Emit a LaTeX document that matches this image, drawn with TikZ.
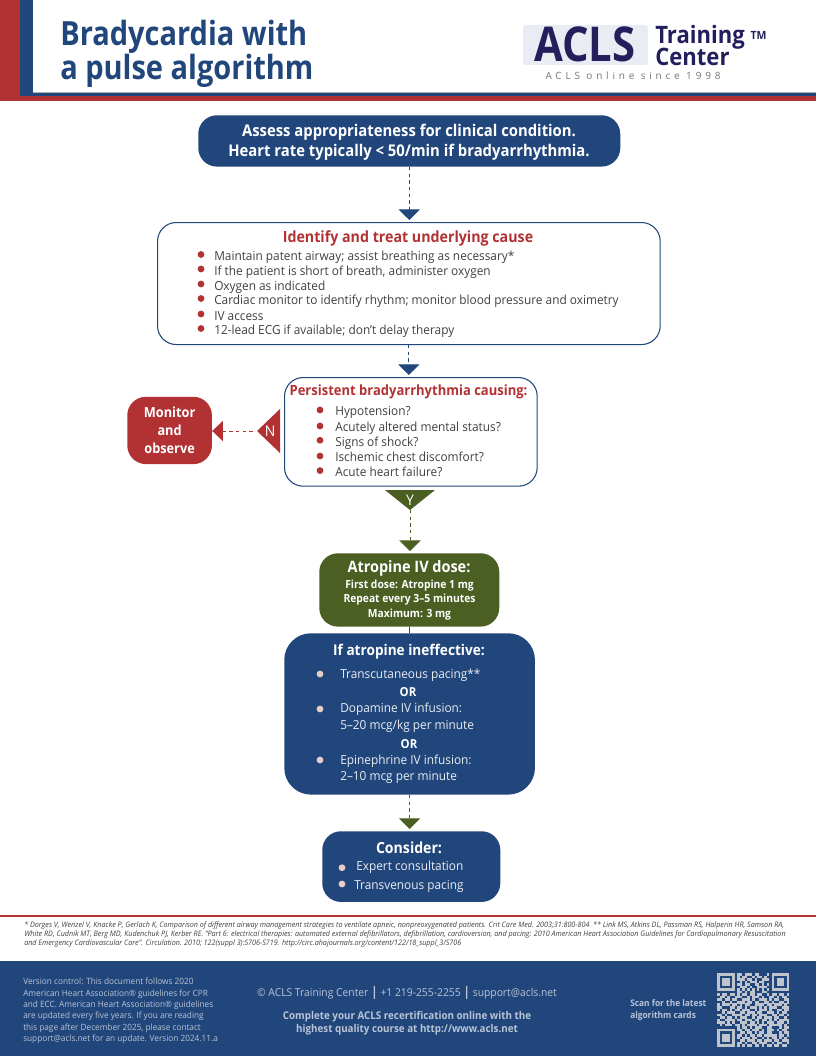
\documentclass[tikz,border=0pt]{standalone}
\usepackage{fontspec}
\setmainfont{Open Sans}[FakeStretch=0.95,BoldFeatures={FakeStretch=0.92}]
\newfontfamily\narrowfont[FakeStretch=0.87]{Open Sans}
\newfontfamily\spacedfont[LetterSpace=38]{Open Sans}
\usetikzlibrary{arrows.meta,positioning}
\definecolor{aclsblue}{HTML}{21467B}
\definecolor{aclsred}{HTML}{B23234}
\definecolor{aclsgreen}{HTML}{4A5F21}
\definecolor{aclsink}{HTML}{231F5C}
\definecolor{bulletpale}{HTML}{E8CFC5}
\definecolor{footpale}{HTML}{B9C4D6}
\definecolor{qrgrey}{HTML}{BFC4CC}
\tikzset{
	box/.style={rounded corners=#1, inner sep=0pt, align=center, anchor=north west},
	box/.default=14,
	head/.style={font=\fontsize{#1}{14}\selectfont\bfseries, align=center, inner sep=0pt},
	head/.default=11.5,
	item/.style={font=\fontsize{9.35}{12}\selectfont, anchor=base west, inner sep=0pt, text=black!75},
	paleitem/.style={item, text=white!90!aclsblue},
	flow/.style={dash pattern=on 2.5pt off 2.5pt, line width=0.7pt, -{Triangle[length=8pt,width=16pt]}, shorten >=1.5pt},
	foot/.style={font=\fontsize{6.5}{8.5}\selectfont, text=footpale, align=left, inner sep=0pt},
	letter/.style={inner sep=0pt, text=white, font=\fontsize{11}{12}\selectfont},
}
% one row of the scan code, read as 0 and 1
\newcount\qrcol
\def\qrscan#1#2{\ifx#2.\let\qrnext\relax\else
	\ifx#21\fill[qrgrey] ({717.3+\the\qrcol*2.48},{973+#1*2.54}) rectangle +(2.5,2.56);\fi
	\advance\qrcol by 1
	\def\qrnext{\qrscan{#1}}\fi\qrnext}
\newcommand{\footbar}{{\fontsize{10}{10}\selectfont\textbf{|}}}
\begin{document}
\begin{tikzpicture}[x=0.75pt, y=-0.75pt, line join=round]
	\useasboundingbox (0,0) rectangle (816,1056);
	% header band
	\fill[aclsred] (0,0) rectangle (20,100);
	\fill[aclsred] (0,96) rectangle (816,101);
	\fill[aclsblue] (20,0) rectangle (33,96);
	\fill[aclsblue] (20,93) rectangle (816,96);
	\draw[black!30, line width=0.5pt] (33,92.6) -- (816,92.6);
	\node[anchor=west, inner sep=0pt, text=aclsblue, align=left, font=\narrowfont\fontsize{25}{24.8}\selectfont\bfseries] (title) at (60,54) {Bradycardia with\\a pulse algorithm};
	\fill[aclsblue!10, rounded corners=2] (523,25) rectangle (648,65);
	\node[inner sep=0pt, text=aclsink, font=\narrowfont\fontsize{36}{36}\selectfont\bfseries] (logo) at (585,44) {ACLS};
	\node[anchor=west, inner sep=0pt, text=aclsink, align=left, font=\fontsize{18}{15.5}\selectfont\bfseries] (logotext) at (655,45.5) {Training \raisebox{3pt}{\fontsize{8.5}{10}\selectfont TM}\\[-2.5pt]Center};
	\node[inner sep=0pt, text=black!55, font=\spacedfont\fontsize{7.5}{9}\selectfont] (since) at (633,76) {ACLS online since 1998};
	% flowchart boxes
	\node[box, fill=aclsblue, minimum width=316.5pt, minimum height=38.5pt] (assess) at (198,115) {};
	\node[head=12, text=white, font=\fontsize{12.1}{15}\selectfont\bfseries] (assesstext) at (409,142) {Assess appropriateness for clinical condition.\\Heart rate typically < 50/min if bradyarrhythmia.};
	\node[box, draw=aclsblue, line width=0.8pt, minimum width=377pt, minimum height=91.5pt] (identify) at (157,222) {};
	\node[head=11.6, text=aclsred] (identifyhead) at (408,238) {Identify and treat underlying cause};
	\foreach \y/\t [count=\i] in {260.5/Maintain patent airway; assist breathing as necessary*, 275/If the patient is short of breath{,} administer oxygen, 290/Oxygen as indicated, 304.5/Cardiac monitor to identify rhythm; monitor blood pressure and oximetry, 320/IV access, 334.5/12-lead ECG if available; don’t delay therapy}{
		\node[item] (cause\i) at (214,\y) {\t};
		\fill[aclsred] (201,\y-6) circle (3.4);
	}
	\node[box, draw=aclsblue, line width=0.8pt, minimum width=189.5pt, minimum height=81.5pt] (persist) at (284,377) {};
	\node[head=10.6, text=aclsred] (persisthead) at (408.5,392) {Persistent bradyarrhythmia causing:};
	\foreach \y/\t [count=\i] in {415.7/Hypotension?, 431.7/Acutely altered mental status?, 446/Signs of shock?, 461.7/Ischemic chest discomfort?, 476.3/Acute heart failure?}{
		\node[item] (sign\i) at (335,\y) {\t};
		\fill[aclsred] (320,\y-5.7) circle (3.4);
	}
	\node[box, fill=aclsred, text=white, minimum width=63.5pt, minimum height=50.5pt, font=\fontsize{10.4}{13.5}\selectfont\bfseries] (monitor) at (127,396.5) {Monitor\\and\\observe};
	\fill[aclsred] (257,431) -- (280,409) -- (280,453) -- cycle;
	\node[letter] (no) at (270,431) {N};
	\coordinate (nofrom) at (257,431);
	\draw[flow, draw=aclsred, {Triangle[length=8pt,width=15pt]}-] (monitor.east |- nofrom) -- (nofrom);
	\fill[aclsgreen] (385,490) -- (435,490) -- (410,510) -- cycle;
	\node[letter] (yes) at (410,500) {Y};
	\node[box, fill=aclsgreen, minimum width=135pt, minimum height=55pt] (atropine) at (319,553) {};
	\node[head=11.8, text=white] (atropinehead) at (409,568) {Atropine IV dose:};
	\node[inner sep=0pt, align=center, text=white, font=\fontsize{8.4}{11}\selectfont\bfseries] (atropinetext) at (409.5,600) {First dose: Atropine 1 mg\\Repeat every 3–5 minutes\\Maximum: 3 mg};
	\node[box=20, fill=aclsblue, minimum width=188pt, minimum height=121pt] (ineff) at (284,633) {};
	\node[head=11.1, text=white] (ineffhead) at (409,652) {If atropine ineffective:};
	\foreach \y/\t [count=\i] in {678/{Transcutaneous pacing**}, 712.7/{Dopamine IV infusion:}, 729/{5–20 mcg/kg per minute}, 764/{Epinephrine IV infusion:}, 780/{2–10 mcg per minute}}{
		\node[paleitem] (drug\i) at (340,\y) {\t};
	}
	\foreach \y in {674,709,760}{
		\fill[bulletpale] (320,\y) circle (3.4);
	}
	\node[inner sep=0pt, text=white, font=\fontsize{9.3}{12}\selectfont\bfseries] (orone) at (408,692) {OR};
	\node[inner sep=0pt, text=white, font=\fontsize{9.3}{12}\selectfont\bfseries] (ortwo) at (409,744) {OR};
	\node[box, fill=aclsblue, minimum width=133.5pt, minimum height=53pt] (consider) at (322,831) {};
	\node[head=11.5, text=white] (considerhead) at (409,848) {Consider:};
	\node[paleitem] (expert) at (356,870.7) {Expert consultation};
	\node[paleitem] (transven) at (354,889) {Transvenous pacing};
	\fill[bulletpale] (342,867.7) circle (3.4);
	\fill[bulletpale] (342,884) circle (3.4);
	% connectors
	\draw[flow, draw=aclsblue] (assess.south) -- (assess.south |- identify.north);
	\draw[flow, draw=aclsblue] (identify.south) -- (identify.south |- persist.north);
	\coordinate (yesfrom) at (410,510);
	\draw[flow, draw=aclsgreen] (yesfrom) -- (yesfrom |- atropine.north);
	\draw[aclsblue, line width=0.8pt] (atropine.south) -- (atropine.south |- ineff.north);
	\draw[flow, draw=aclsgreen] (ineff.south) -- (ineff.south |- consider.north);
	% references
	\draw[aclsred, line width=0.8pt] (0,916) -- (816,916);
	\node[anchor=north west, inner sep=0pt, align=left, text=black!75, font=\fontsize{5.66}{6.9}\selectfont\itshape] (refs) at (24,921) {* Dorges V, Wenzel V, Knacke P, Gerlach K, Comparison of different airway management strategies to ventilate apneic, nonpreoxygenated patients. Crit Care Med. 2003;31:800-804\ \ ** Link MS, Atkins DL, Passman RS, Halperin HR, Samson RA,\\White RD, Cudnik MT, Berg MD, Kudenchuk PJ, Kerber RE. “Part 6: electrical therapies: automated external defibrillators, defibrillation, cardioversion, and pacing: 2010 American Heart Association Guidelines for Cardiopulmonary Resuscitation\\and Emergency Cardiovascular Care”. Circulation. 2010; 122(suppl 3):S706-S719. http://circ.ahajournals.org/content/122/18\_suppl\_3/S706};
	% footer
	\fill[aclsblue] (0,961) rectangle (816,1056);
	\node[foot, anchor=north west] (version) at (23,978) {Version control: This document follows 2020\\American Heart Association® guidelines for CPR\\and ECC. American Heart Association® guidelines\\are updated every five years. If you are reading\\this page after December 2025, please contact\\support@acls.net for an update. Version 2024.11.a};
	\node[foot, anchor=center, font=\fontsize{8.15}{10}\selectfont] (contact) at (407,993) {© ACLS Training Center \footbar{} +1 219-255-2255 \footbar{} support@acls.net};
	\node[foot, anchor=center, align=center, font=\fontsize{8}{9.5}\selectfont\bfseries] (complete) at (407,1023) {Complete your ACLS recertification online with the\\highest quality course at http://www.acls.net};
	\node[foot, anchor=west, font=\fontsize{6.8}{9.4}\selectfont\bfseries] (scan) at (630,1010) {Scan for the latest\\algorithm cards};
	% scan code
	\foreach \bits [count=\j from 0] in {
		11111110110111011000101111111,
		10000010101100101101001000001,
		10111010111011010011101011101,
		10111010010101110110001011101,
		10111010110110011010101011101,
		10000010011101001111001000001,
		11111110101010101010101111111,
		00000000110101100011000000000,
		10110110101101101100101101101,
		01101001110010111010011010110,
		11011011001110100111010110011,
		00100100111011011001101001101,
		10111011010110011110110111010,
		11000110110101110101011100111,
		10110101101110010111010011011,
		00101110011011101100111010110,
		11010011110110110111001101101,
		01101101011100101101110110010,
		10011110110111011011010101111,
		11101010011101101010111011101,
		01011101101011110111011111010,
		00000000101101011100110001011,
		11111110110110111010111010110,
		10000010011011010110110001011,
		10111010110101101101111101101,
		10111010101110110010101101010,
		10111010011011101101110110111,
		10000010110100110111001011001,
		11111110101011011010110110110}{
		\qrcol=0
		\edef\qrline{\noexpand\qrscan{\j}\bits.}\qrline
	}
\end{tikzpicture}
\end{document}
